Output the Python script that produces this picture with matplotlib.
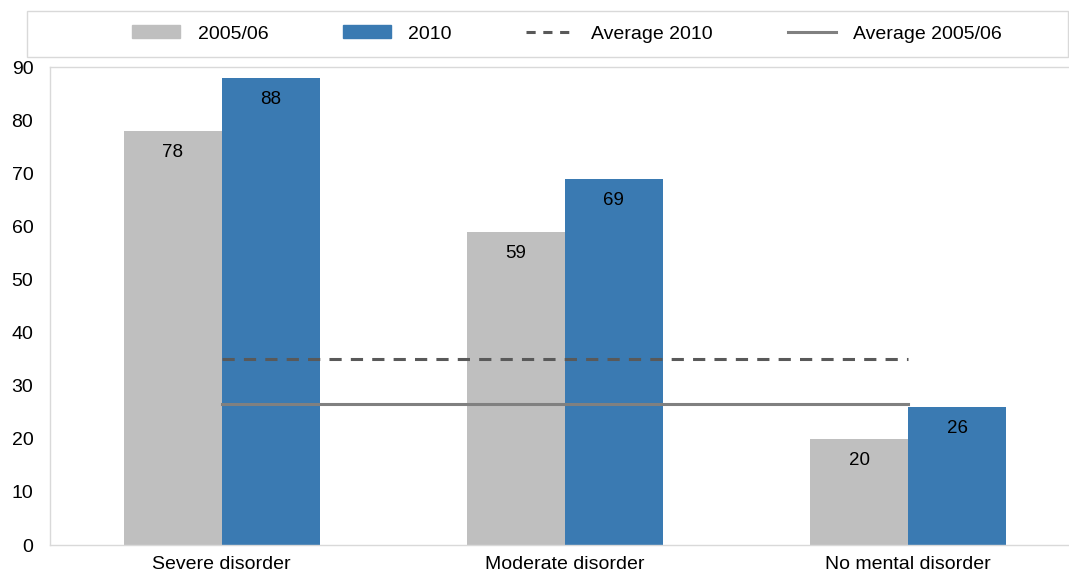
import matplotlib
matplotlib.use("Agg")
import matplotlib.pyplot as plt
from matplotlib.patches import Rectangle, Patch
from matplotlib.lines import Line2D
import numpy as np

categories = ["Severe disorder", "Moderate disorder", "No mental disorder"]
values_2005 = [78, 59, 20]
values_2010 = [88, 69, 26]
avg_2010 = 35.0
avg_2005 = 26.5
yticks = [0, 10, 20, 30, 40, 50, 60, 70, 80, 90]

plt.rcParams['font.family'] = ['Liberation Sans', 'DejaVu Sans']

W, H = 1069, 579
fig = plt.figure(figsize=(W / 100, H / 100), dpi=100)
ax = fig.add_axes([50 / W, (579 - 545) / H, (1069 - 50) / W, (545 - 67) / H])

gray = "#bfbfbf"
blue = "#3a7ab2"
x = np.arange(len(categories))
bw = 0.285
b1 = ax.bar(x - bw / 2, values_2005, bw, color=gray, label="2005/06")
b2 = ax.bar(x + bw / 2, values_2010, bw, color=blue, label="2010")

for bars, vals in ((b1, values_2005), (b2, values_2010)):
    for r, v in zip(bars, vals):
        ax.annotate(f"{v}", (r.get_x() + r.get_width() / 2, v), xytext=(0, -15.5),
                    textcoords="offset points", ha="center", va="center",
                    fontsize=13.5, color="black")

ax.plot([x[0], x[-1]], [avg_2010, avg_2010], color="#595959", lw=2.2,
        ls=(0, (4, 3)))
ax.plot([x[0], x[-1]], [avg_2005, avg_2005], color="#808080", lw=2.2)

ax.set_ylim(0, 90)
ax.set_xlim(-0.5, 2.468)
ax.set_yticks(yticks)
ax.set_xticks(x)
ax.set_xticklabels(categories)
ax.tick_params(axis='both', length=0, labelsize=14, colors="black")
ax.tick_params(axis='x', pad=8)
ax.tick_params(axis='y', pad=12)
for s in ax.spines.values():
    s.set_color("#d9d9d9")
    s.set_linewidth(1.0)
ax.spines['right'].set_visible(False)

# legend frame
fig.add_artist(Rectangle((27 / W, 1 - 57 / H), (1068 - 27) / W, 46 / H,
                         transform=fig.transFigure, fill=False,
                         edgecolor="#d9d9d9", lw=1.0))
handles = [Patch(color=gray), Patch(color=blue),
           Line2D([], [], color="#595959", lw=2.2, ls=(0, (3, 2.5))),
           Line2D([], [], color="#808080", lw=2.2)]
labels = ["2005/06", "2010", "Average 2010", "Average 2005/06"]
fig.legend(handles, labels, loc="center", bbox_to_anchor=(567 / W, 1 - 34 / H),
           ncol=4, frameon=False, fontsize=14, handlelength=2.47,
           handleheight=0.6, handletextpad=0.88, columnspacing=3.84)

fig.savefig("out.png", dpi=100)
